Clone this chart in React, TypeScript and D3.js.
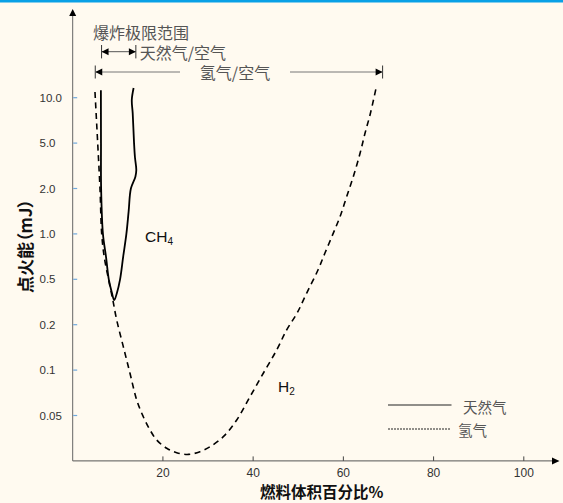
import React from 'react';
import * as d3 from 'd3';

// x: fuel volume %, y: ignition energy mJ
const xTicks = [20, 40, 60, 80, 100];
const yTickValues = [10, 5, 2, 1, 0.5, 0.2, 0.1, 0.05];
const yTickLabels = ['10.0', '5.0', '2.0', '1.0', '0.5', '0.2', '0.1', '0.05'];
const yBottom = 0.02;

const ch4Pct = [6.25, 6.27, 6.3, 6.7, 7.4, 8.0, 8.7, 9.2, 9.8, 10.5, 11.2, 11.9, 12.4, 12.9, 13.9, 14.1, 13.8, 13.6, 13.3, 13.1, 13.5];
const ch4Mj = [11.2, 5, 2.0, 1.0, 0.7, 0.5, 0.38, 0.328, 0.38, 0.5, 0.71, 1.0, 1.41, 2.0, 2.54, 2.91, 3.76, 5, 7.9, 9.66, 11.6];

const h2Pct = [4.94, 5.54, 6.05, 6.43, 7.0, 7.94, 8.89, 9.75, 11.22, 12.7, 14.19, 15.65, 17.14, 18.62, 20.84, 23.05, 25.63, 28.22, 30.44, 33.39, 36.36, 39.3, 42.25, 45.22, 47.44, 49.72, 51.85, 54.35, 55.9, 57.7, 59.26, 60.74, 62.2, 63.7, 64.8, 66.0, 67.2];
const h2Mj = [10.9, 5, 2, 1.0, 0.7, 0.5, 0.33, 0.22, 0.143, 0.0953, 0.0633, 0.0488, 0.0373, 0.0305, 0.0258, 0.0236, 0.0228, 0.0241, 0.0266, 0.0326, 0.0457, 0.0666, 0.0953, 0.136, 0.185, 0.252, 0.377, 0.574, 0.744, 1.0, 1.3, 1.77, 2.54, 4.07, 5.81, 7.88, 11.4];

// explosion limit ranges (%)
const ch4Range = [6.4, 14.0];
const h2Range = [5.0, 68.7];

const width = 563;
const height = 503;
const cjk = "'Noto Sans CJK SC', 'Noto Sans', sans-serif";
const latin = "'Liberation Sans', Arial, sans-serif";

const App = () => {
  const x = d3.scaleLinear().domain([0, 100]).range([72.7, 523.8]);
  const yDomain = [...yTickValues, yBottom];
  const y = d3.scaleLog()
    .domain(yDomain)
    .range(yDomain.map((_, i) => 97.7 + i * 45.4));

  const axisY = y(yBottom);
  const axisX = x(0);

  const line = d3.line<[number, number]>()
    .x(d => x(d[0]))
    .y(d => y(d[1]))
    .curve(d3.curveCatmullRom.alpha(0.5));

  const ch4Path = line(ch4Pct.map((p, i) => [p, ch4Mj[i]]));
  const h2Path = line(h2Pct.map((p, i) => [p, h2Mj[i]]));

  // little filled arrowhead, tip at (tx, ty), dir = -1 left / 1 right
  const headH = (tx, ty, dir) =>
    `${tx},${ty} ${tx - dir * 7},${ty - 3.5} ${tx - dir * 7},${ty + 3.5}`;

  const row2 = 51.7;
  const row3 = 72;

  return (
    <svg width={width} height={height}
      style={{ position: 'absolute', left: 0, top: 0, display: 'block', background: '#fffaf0' }}>
      <rect x={0} y={0} width={width} height={2.5} fill="#0aa0e6" />

      {/* y axis */}
      <line x1={axisX} x2={axisX} y1={14} y2={axisY} stroke="#666" strokeWidth={1} />
      <polygon points={`${axisX},9 ${axisX - 3.5},16 ${axisX + 3.5},16`} fill="#000" />
      {yTickValues.map((v, i) => (
        <g key={v}>
          <line x1={axisX + 0.5} x2={axisX + 4.5} y1={y(v)} y2={y(v)} stroke="#6fa8dc" strokeWidth={1.2} />
          <text x={39.5} y={y(v)} dominantBaseline="central" fontFamily={latin} fontSize={11.5} fill="#333">
            {yTickLabels[i]}
          </text>
        </g>
      ))}
      <text transform={`translate(24,246) rotate(-90)`} textAnchor="middle" dominantBaseline="central"
        fontFamily={cjk} fontWeight="bold" fontSize={17} fill="#111"
        style={{ fontFeatureSettings: '"palt"' }}>
        点火能（mJ）
      </text>

      {/* x axis */}
      <line x1={axisX} x2={553} y1={axisY} y2={axisY} stroke="#555" strokeWidth={1} />
      <polygon points={`559.5,${axisY} 552,${axisY - 3.5} 552,${axisY + 3.5}`} fill="#000" />
      {xTicks.map(t => (
        <g key={t}>
          <line x1={x(t)} x2={x(t)} y1={axisY - 4.5} y2={axisY} stroke="#444" strokeWidth={1} />
          <text x={x(t)} y={472.5} textAnchor="middle" dominantBaseline="central" fontFamily={latin} fontSize={12} fill="#333">
            {t}
          </text>
        </g>
      ))}
      <text x={321.7} y={491} textAnchor="middle" dominantBaseline="central"
        fontFamily={cjk} fontWeight="bold" fontSize={15.5} fill="#111">
        燃料体积百分比%
      </text>

      {/* curves */}
      <path d={h2Path} fill="none" stroke="#000" strokeWidth={1.6} strokeDasharray="6,4.5" />
      <path d={ch4Path} fill="none" stroke="#000" strokeWidth={1.8} />

      <text x={145} y={242.3} fontFamily={latin} fontSize={15.5} fill="#111">
        CH<tspan fontSize={10} dy={3}>4</tspan>
      </text>
      <text x={278} y={391.5} fontFamily={latin} fontSize={15.5} fill="#111">
        H<tspan fontSize={10} dy={3}>2</tspan>
      </text>

      {/* explosion limit annotation */}
      <text x={93} y={31.7} dominantBaseline="central" fontFamily={cjk} fontSize={16} fill="#555">
        爆炸极限范围
      </text>
      <line x1={x(ch4Range[0])} x2={x(ch4Range[0])} y1={row2 - 6.7} y2={row2 + 6.7} stroke="#333" />
      <line x1={x(ch4Range[1])} x2={x(ch4Range[1])} y1={row2 - 6.7} y2={row2 + 6.7} stroke="#333" />
      <line x1={x(ch4Range[0])} x2={x(ch4Range[1])} y1={row2} y2={row2} stroke="#555" />
      <polygon points={headH(x(ch4Range[0]), row2, -1)} fill="#000" />
      <polygon points={headH(x(ch4Range[1]), row2, 1)} fill="#000" />
      <text x={x(ch4Range[1]) + 4} y={row2} dominantBaseline="central" fontFamily={cjk} fontSize={16} fill="#555">
        天然气/空气
      </text>

      <line x1={x(h2Range[0])} x2={x(h2Range[0])} y1={row3 - 6.5} y2={row3 + 6.5} stroke="#333" />
      <line x1={x(h2Range[1])} x2={x(h2Range[1])} y1={row3 - 6.5} y2={row3 + 6.5} stroke="#333" />
      <line x1={x(h2Range[0])} x2={180} y1={row3} y2={row3} stroke="#777" />
      <line x1={290} x2={x(h2Range[1])} y1={row3} y2={row3} stroke="#777" />
      <polygon points={headH(x(h2Range[0]), row3, -1)} fill="#000" />
      <polygon points={headH(x(h2Range[1]), row3, 1)} fill="#000" />
      <text x={235} y={row3} textAnchor="middle" dominantBaseline="central" fontFamily={cjk} fontSize={16} fill="#555">
        氢气/空气
      </text>

      {/* legend */}
      <line x1={388} x2={451.5} y1={405} y2={405} stroke="#222" strokeWidth={1.2} />
      <text x={463} y={406} dominantBaseline="central" fontFamily={cjk} fontSize={14.5} fill="#555">天然气</text>
      <line x1={388} x2={451} y1={429} y2={429} stroke="#222" strokeWidth={1} strokeDasharray="2,1" />
      <text x={458} y={429} dominantBaseline="central" fontFamily={cjk} fontSize={14.5} fill="#555">氢气</text>
    </svg>
  );
};

export default App;
